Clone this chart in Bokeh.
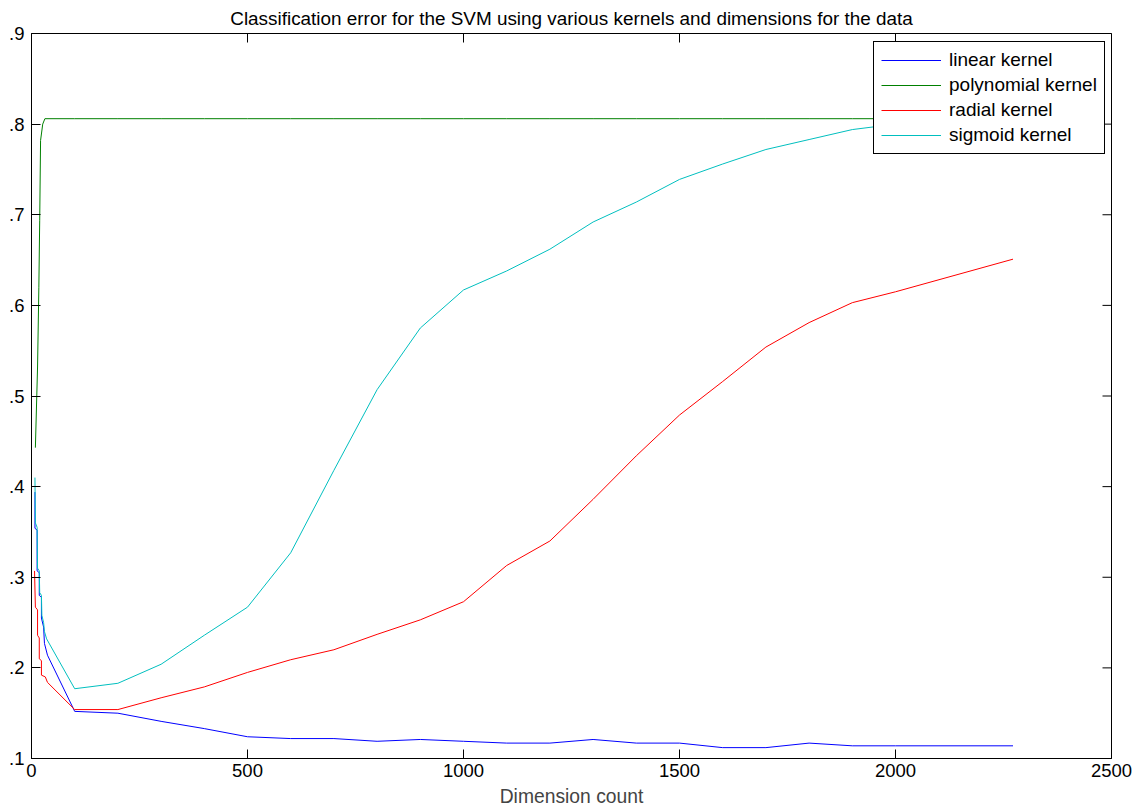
import math
from bokeh.plotting import figure
from bokeh.models import Range1d, FixedTicker
from bokeh.embed import file_html
from bokeh.resources import INLINE

# ---- data ----
x_main = [100, 200, 300, 400, 500, 600, 700, 800, 900, 1000, 1100, 1200, 1300,
          1400, 1500, 1600, 1700, 1800, 1900, 2000, 2272]

linear_x0 = [8, 8, 13, 13, 18, 18, 23, 23, 28, 30, 37]
linear_y0 = [0.394, 0.354, 0.352, 0.307, 0.305, 0.280, 0.278, 0.255, 0.245, 0.227, 0.214]
linear_main = [0.152, 0.150, 0.141, 0.133, 0.124, 0.122, 0.122, 0.119, 0.121, 0.119, 0.117,
               0.117, 0.121, 0.117, 0.117, 0.112, 0.112, 0.117, 0.114, 0.114, 0.114]

poly_x0 = [9, 14, 17, 19, 21, 26, 31]
poly_y0 = [0.443, 0.532, 0.620, 0.694, 0.782, 0.800, 0.806]
poly_main = [0.806] * 21

radial_x0 = [7, 9, 14, 14, 18, 18, 23, 23, 32, 37]
radial_y0 = [0.307, 0.267, 0.264, 0.236, 0.233, 0.210, 0.208, 0.192, 0.190, 0.184]
radial_main = [0.154, 0.154, 0.167, 0.179, 0.195, 0.209, 0.220, 0.237, 0.253, 0.273, 0.313,
               0.340, 0.386, 0.434, 0.479, 0.516, 0.554, 0.581, 0.603, 0.615, 0.651]

sigmoid_x0 = [8, 9, 13, 14, 18, 19, 23, 24, 28, 30, 35]
sigmoid_y0 = [0.410, 0.360, 0.355, 0.310, 0.307, 0.283, 0.280, 0.258, 0.250, 0.240, 0.232]
sigmoid_main = [0.177, 0.183, 0.204, 0.236, 0.267, 0.327, 0.418, 0.507, 0.575, 0.617, 0.638,
                0.662, 0.692, 0.714, 0.739, 0.756, 0.772, 0.783, 0.794, 0.800, 0.805]

series_names = ["linear kernel", "polynomial kernel", "radial kernel", "sigmoid kernel"]
series_colors = ["#0000FF", "#008000", "#FF0000", "#00BFBF"]

x_ticks = [0, 500, 1000, 1500, 2000, 2500]
y_ticks = [0.1, 0.2, 0.3, 0.4, 0.5, 0.6, 0.7, 0.8, 0.9]
y_tick_labels = [".1", ".2", ".3", ".4", ".5", ".6", ".7", ".8", ".9"]

FONT = "Liberation Sans"

p = figure(width=1139, height=810, output_backend="svg", toolbar_location=None,
           x_range=Range1d(0, 2500), y_range=Range1d(0.1, 0.9),
           title="Classification error for the SVM using various kernels and dimensions for the data",
           min_border_left=31, min_border_right=28, min_border_top=33, min_border_bottom=52)
p.title.align = "center"
p.title.text_font = FONT
p.title.text_font_size = "18.9px"
p.title.text_font_style = "normal"
p.title.text_color = "black"
p.grid.visible = False
p.outline_line_color = "black"
p.outline_line_width = 1
p.background_fill_color = "white"
p.border_fill_color = "white"

p.xaxis.axis_label = "Dimension count"
p.xaxis.axis_label_text_font = FONT
p.xaxis.axis_label_text_font_size = "19.3px"
p.xaxis.axis_label_text_font_style = "normal"
p.xaxis.axis_label_standoff = 6

for ax in [p.xaxis[0], p.yaxis[0]]:
    ax.major_label_text_font = FONT
    ax.major_label_text_font_size = "18.5px"
    ax.major_label_text_color = "black"
    ax.major_tick_in = 9
    ax.major_tick_out = 0
    ax.minor_tick_in = 0
    ax.minor_tick_out = 0
    ax.axis_line_color = "black"
    ax.major_tick_line_color = "black"
p.xaxis.ticker = FixedTicker(ticks=x_ticks)
p.yaxis.ticker = FixedTicker(ticks=y_ticks)
p.yaxis.major_label_overrides = {t: l for t, l in zip(y_ticks, y_tick_labels)}
p.xaxis.major_label_standoff = 5
p.yaxis.major_label_standoff = 7

# mirrored inward ticks on the top and right edges (clipped to the frame)
p.scatter(x=x_ticks, y=[0.9] * len(x_ticks), marker="dash", angle=math.pi / 2,
          size=18, line_color="black", line_width=1)
p.scatter(x=[2500] * len(y_ticks), y=y_ticks, marker="dash",
          size=18, line_color="black", line_width=1)

xs = [linear_x0 + x_main, poly_x0 + x_main, radial_x0 + x_main, sigmoid_x0 + x_main]
ys = [linear_y0 + linear_main, poly_y0 + poly_main, radial_y0 + radial_main, sigmoid_y0 + sigmoid_main]

for name, color, x, y in zip(series_names, series_colors, xs, ys):
    p.line(x, y, line_color=color, line_width=1, legend_label=name)

legend = p.legend[0]
legend.location = (842, 604)
legend.label_text_font = FONT
legend.label_text_font_size = "19px"
legend.label_text_color = "black"
legend.glyph_width = 60
legend.label_standoff = 8
legend.padding = 7
legend.spacing = 3
legend.margin = 0
legend.border_line_color = "black"
legend.border_line_width = 1
legend.border_line_alpha = 1
legend.background_fill_color = "white"
legend.background_fill_alpha = 1

open("out.html", "w").write(file_html(p, INLINE))
